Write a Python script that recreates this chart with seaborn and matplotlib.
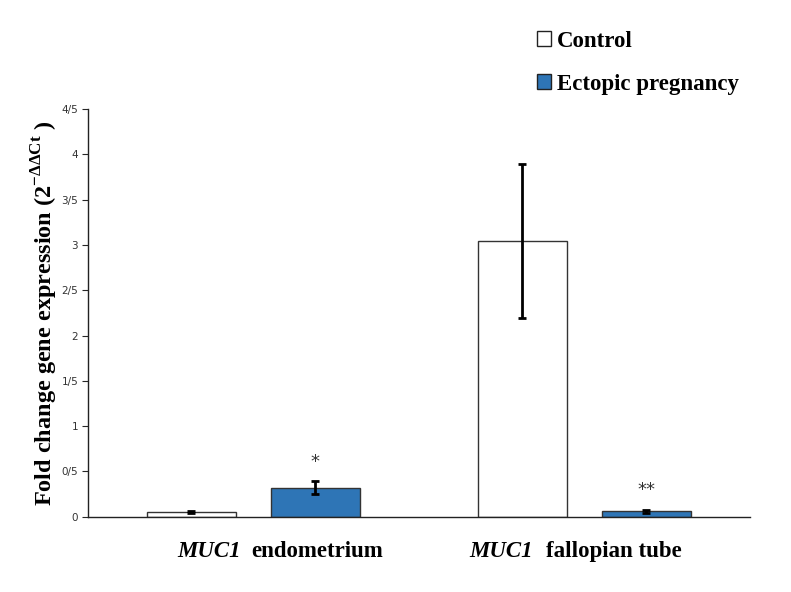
import pandas as pd
import matplotlib
matplotlib.use('Agg')
import matplotlib.pyplot as plt
from matplotlib.patches import Patch
import seaborn as sns

# data
tissues = ['endometrium', 'fallopian tube']
groups = ['Control', 'Ectopic pregnancy']
control_mean = [0.055, 3.04]
control_err = [0.01, 0.85]
ectopic_mean = [0.32, 0.06]
ectopic_err = [0.07, 0.02]
stars = ['', '*', '', '**']  # control/ectopic per tissue
y_ticks = [0, 0.5, 1, 1.5, 2, 2.5, 3, 3.5, 4, 4.5]
y_tick_labels = ['0', '0/5', '1', '1/5', '2', '2/5', '3', '3/5', '4', '4/5']

df = pd.DataFrame({
    'tissue': tissues * 2,
    'group': [groups[0]] * 2 + [groups[1]] * 2,
    'value': control_mean + ectopic_mean,
    'err': control_err + ectopic_err,
})

sns.set_style('white')
plt.rcParams['font.family'] = ['Liberation Serif', 'DejaVu Serif']
plt.rcParams['text.color'] = 'black'
plt.rcParams['axes.labelcolor'] = 'black'
plt.rcParams['mathtext.fontset'] = 'custom'
plt.rcParams['mathtext.rm'] = 'Liberation Serif'
plt.rcParams['mathtext.bf'] = 'Liberation Serif:bold'

fig = plt.figure(figsize=(7.91, 5.92), dpi=100)
ax = fig.add_axes([0.111, 0.127, 0.837, 0.689])

colors = {'Control': 'white', 'Ectopic pregnancy': '#2E75B6'}
sns.barplot(data=df, x='tissue', y='value', hue='group', palette=colors,
            saturation=1, width=0.75, gap=0.28, edgecolor='#333333',
            linewidth=1.0, errorbar=None, legend=False, ax=ax)

# error bars and significance stars
bar_conts = list(ax.containers)
for gi, cont in enumerate(bar_conts):
    errs = control_err if gi == 0 else ectopic_err
    for ti, bar in enumerate(cont):
        xc = bar.get_x() + bar.get_width() / 2
        h = bar.get_height()
        ax.errorbar(xc, h, yerr=errs[ti], fmt='none', ecolor='black',
                    elinewidth=2, capsize=3, capthick=2)
        s = stars[ti * 2 + gi]
        if s:
            ax.text(xc, h + errs[ti] + 0.22, s, ha='center', va='center',
                    fontsize=13, color='#333333', family='DejaVu Sans')

ax.set_xlim(-0.5, 1.5)
ax.set_ylim(0, 4.5)
ax.set_yticks(y_ticks)
ax.set_yticklabels(y_tick_labels, family='DejaVu Sans', fontsize=7.5,
                   color='#333333')
ax.tick_params(axis='y', direction='out', length=4, width=0.8, pad=3, left=True)
ax.tick_params(axis='x', bottom=False)
ax.set_xticks([0, 1])
ax.set_xticklabels(['', ''])
ax.set_xlabel('')
for side in ['top', 'right']:
    ax.spines[side].set_visible(False)
for side in ['left', 'bottom']:
    ax.spines[side].set_color('#222222')
    ax.spines[side].set_linewidth(1.0)

ax.set_ylabel(r'Fold change gene expression (2$^{\mathbf{-\Delta\Delta Ct}}$ )',
              fontsize=17.5, fontweight='bold', labelpad=1)

# category labels: italic gene name + tissue
label_x = [(-0.23, -0.006), (0.653, 0.885)]
for ti, t in enumerate(tissues):
    xg, xt = label_x[ti]
    ax.text(xg, -0.38, 'MUC1', style='italic', fontweight='bold', fontsize=16.5,
            ha='left', va='center', transform=ax.transData, clip_on=False)
    ax.text(xt, -0.38, t, fontweight='bold', fontsize=16.5,
            ha='left', va='center', transform=ax.transData, clip_on=False)

handles = [Patch(facecolor=colors[g], edgecolor='#222222', linewidth=1.0)
           for g in groups]
fig.legend(handles, groups, loc='upper left', bbox_to_anchor=(0.679, 0.948),
           frameon=False, prop={'weight': 'bold', 'size': 16.5},
           handlelength=0.6, handleheight=0.6, handletextpad=0.25,
           labelspacing=0.95, borderaxespad=0, borderpad=0)

fig.savefig('out.png', dpi=100)
